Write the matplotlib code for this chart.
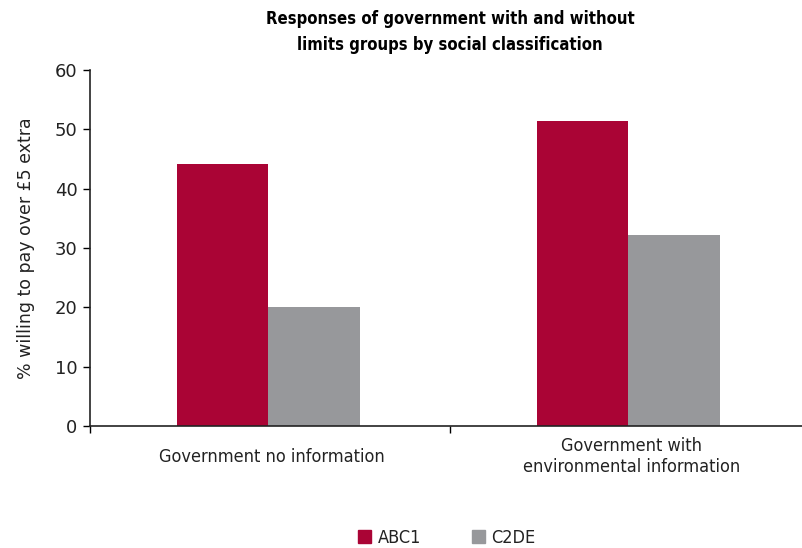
import matplotlib
matplotlib.use("Agg")
import matplotlib.pyplot as plt
from matplotlib.patches import Patch
import numpy as np

categories = ["Government no information", "Government with\nenvironmental information"]
series_names = ["ABC1", "C2DE"]
abc1 = [44.2, 51.4]
c2de = [20.0, 32.2]
yticks = [0, 10, 20, 30, 40, 50, 60]
colors = ["#AA0435", "#97989B"]

plt.rcParams['font.family'] = ['DejaVu Sans']

W, H = 802, 548
fig = plt.figure(figsize=(W/100, H/100), dpi=100)
left, right, top, bottom = 90, 810, 70, 426
ax = fig.add_axes([left/W, 1-bottom/H, (right-left)/W, (bottom-top)/H])

x = np.arange(len(categories)) + 0.495
bw = 0.254
ax.bar(x - bw/2, abc1, width=bw, color=colors[0], label=series_names[0])
ax.bar(x + bw/2, c2de, width=bw, color=colors[1], label=series_names[1])

ax.set_xlim(0, 2)
ax.set_ylim(0, 60)
ax.set_yticks(yticks)
ax.set_xticks([0, 1, 2])
ax.set_xticklabels([])
ax.set_xticks(x + 0.01, minor=True)
ax.set_xticklabels(categories, minor=True, fontsize=13, color="#222222", fontstretch='condensed',
                   linespacing=1.2, va='center')
ax.tick_params(axis='x', which='minor', length=0, pad=22)
ax.tick_params(axis='x', which='major', length=5, direction='out', width=1)
ax.tick_params(axis='y', length=5, direction='out', width=1, labelsize=13, pad=4, labelcolor="#222222")
for s in ['top', 'right']:
    ax.spines[s].set_visible(False)
for s in ['left', 'bottom']:
    ax.spines[s].set_linewidth(1.2)
    ax.spines[s].set_color("#222222")

ax.set_ylabel("% willing to pay over £5 extra", fontsize=12.5, labelpad=14, color="#222222")

fig.text(450/W, 1-32/H, "Responses of government with and without\nlimits groups by social classification",
         ha='center', va='center', fontsize=12, fontweight='bold', fontstretch='condensed',
         linespacing=1.55)

handles = [Patch(color=c, label=n) for c, n in zip(colors, series_names)]
fig.legend(handles=handles, loc='center', bbox_to_anchor=(447/W, 1-538/H), ncol=2, frameon=False,
           prop={'size': 13, 'stretch': 'condensed'}, handlelength=0.72, handleheight=0.72,
           columnspacing=2.85, handletextpad=0.35, labelcolor="#222222")

fig.savefig("out.png", dpi=100)
